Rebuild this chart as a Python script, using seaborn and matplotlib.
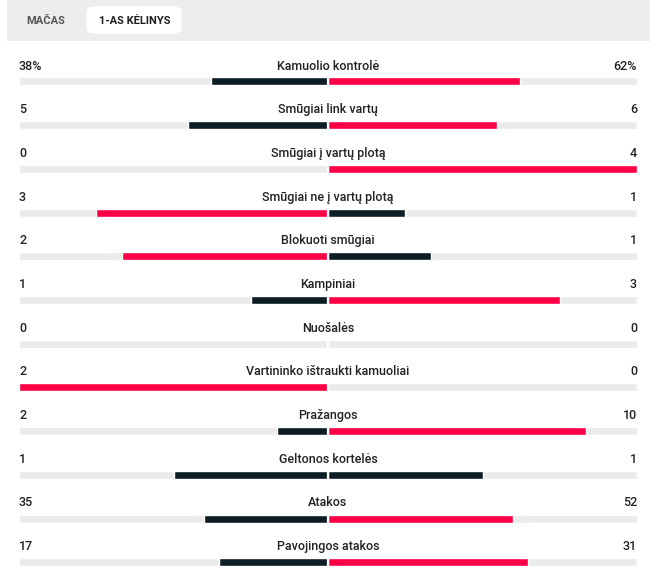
import matplotlib
matplotlib.use("Agg")
import matplotlib.pyplot as plt
import seaborn as sns
import numpy as np
from matplotlib.patches import FancyBboxPatch, Rectangle

# ---- data ----
tabs = ["MAČAS", "1-AS KĖLINYS"]
labels = ["Kamuolio kontrolė", "Smūgiai link vartų", "Smūgiai į vartų plotą",
          "Smūgiai ne į vartų plotą", "Blokuoti smūgiai", "Kampiniai", "Nuošalės",
          "Vartininko ištraukti kamuoliai", "Pražangos", "Geltonos kortelės",
          "Atakos", "Pavojingos atakos"]
home = [38, 5, 0, 3, 2, 1, 0, 2, 2, 1, 35, 17]
away = [62, 6, 4, 1, 1, 3, 0, 0, 10, 1, 52, 31]
home_txt = ["38%", "5", "0", "3", "2", "1", "0", "2", "2", "1", "35", "17"]
away_txt = ["62%", "6", "4", "1", "1", "3", "0", "0", "10", "1", "52", "31"]

RED = "#FF0046"
DARK = "#0C1D25"
TRACK = "#EBEBEB"
TXT = "#222222"

sns.set_theme(style="white")
plt.rcParams["font.family"] = ["Roboto", "DejaVu Sans"]

W, H = 662, 582
fig = plt.figure(figsize=(W / 100, H / 100), dpi=100)
fig.patch.set_facecolor("white")

# header
hdr = fig.add_axes([0, 0, 1, 1], zorder=0)
hdr.set_xlim(0, W)
hdr.set_ylim(H, 0)
hdr.axis("off")
hdr.add_patch(Rectangle((7, -5), 643, 46, facecolor="#EDEDED", edgecolor="none"))
hdr.add_patch(FancyBboxPatch((89, 9), 90, 22, boxstyle="round,pad=2.5,rounding_size=6",
                             facecolor="white", edgecolor="none"))
hdr.text(46, 20.5, tabs[0], ha="center", va="center", fontsize=8, fontweight="semibold",
         color="#555555")
hdr.text(135, 20.5, tabs[1], ha="center", va="center", fontsize=8, fontweight="semibold",
         color="#1f1f1f")

# stats axes
y_top, y_bot = 45, 582
row_h = 43.7
bar0 = 81.5
ax = fig.add_axes([19 / W, 1 - y_bot / H, 618 / W, (y_bot - y_top) / H], zorder=1)
ax.set_facecolor("none")

n = len(labels)
tot = np.array(home, float) + np.array(away, float)
frac_h = np.divide(home, tot, out=np.zeros(n), where=tot > 0)
frac_a = np.divide(away, tot, out=np.zeros(n), where=tot > 0)
col_h = [RED if h > a else DARK for h, a in zip(home, away)]
col_a = [RED if a > h else DARK for h, a in zip(home, away)]

bh = 8 / row_h
cats = [str(i) for i in range(n)]
sns.barplot(x=[-1.0] * n, y=cats, color=TRACK, orient="h", width=bh, ax=ax,
            saturation=1)
sns.barplot(x=[1.0] * n, y=cats, color=TRACK, orient="h", width=bh, ax=ax,
            saturation=1)
sns.barplot(x=-frac_h, y=cats, hue=cats, palette=col_h, orient="h", width=bh, ax=ax,
            saturation=1, legend=False)
sns.barplot(x=frac_a, y=cats, hue=cats, palette=col_a, orient="h", width=bh, ax=ax,
            saturation=1, legend=False)
ypos = np.arange(n)
ax.vlines([0] * n, ypos - bh, ypos + bh, color="white", lw=1.6, zorder=5)

ax.set_xlim(-1, 1)
ax.set_ylim((y_bot - bar0) / row_h, (y_top - bar0) / row_h)
ax.axis("off")

dy = 15.5 / row_h
for i in range(n):
    ty = i - dy
    kw = dict(va="center", fontsize=9, fontweight="medium", color=TXT, zorder=10)
    ax.text(0, ty, labels[i], ha="center", **kw)
    ax.text(-1, ty, home_txt[i], ha="left", **kw)
    ax.text(1, ty, away_txt[i], ha="right", **kw)

fig.savefig("out.png", dpi=100)
